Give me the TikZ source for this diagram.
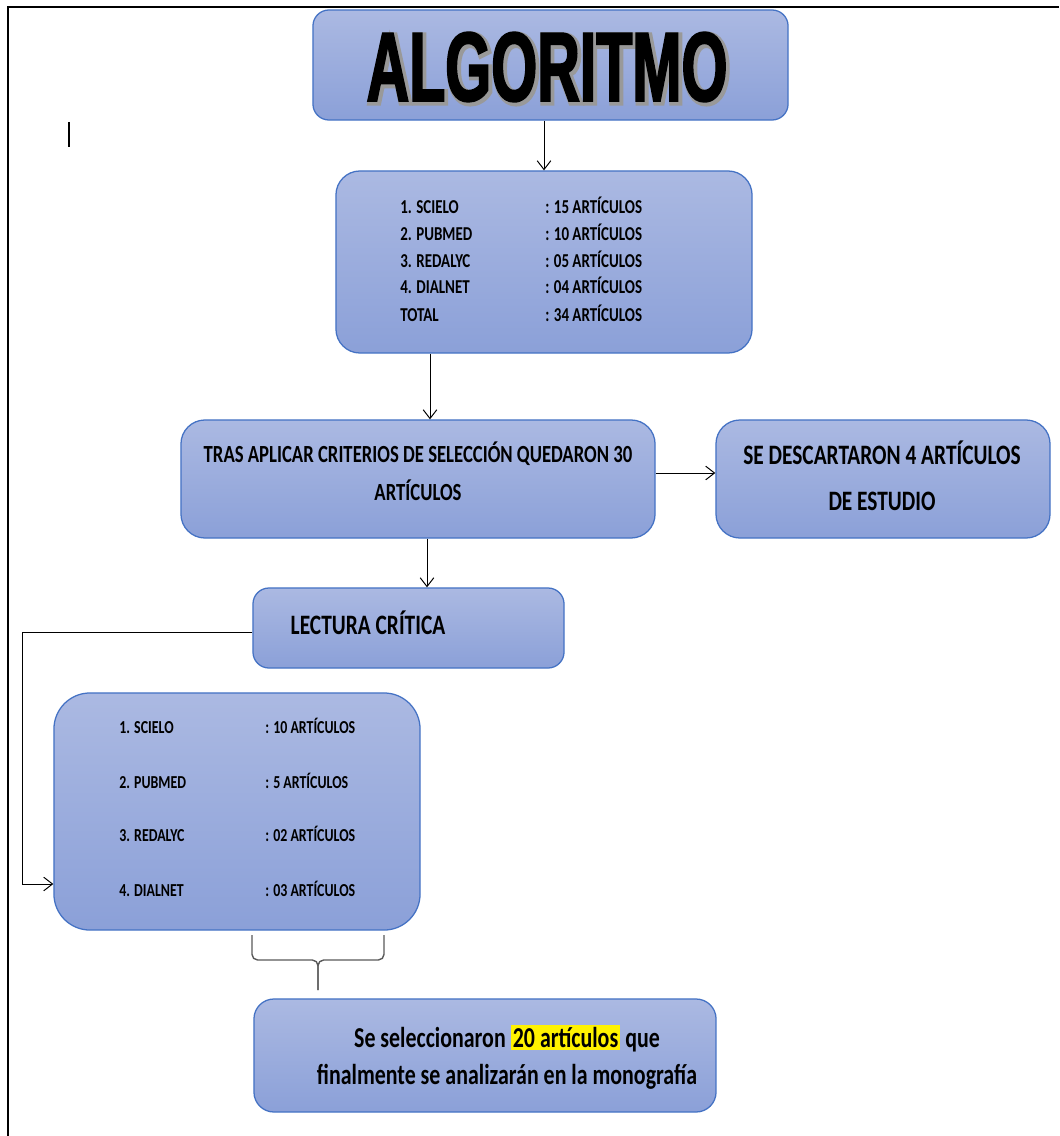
\documentclass[tikz,border=0pt]{standalone}
\usepackage{fontspec}
\setmainfont{Carlito}
\newfontfamily\boxfont[FakeStretch=0.76]{Carlito}
\newfontfamily\titlefont[FakeStretch=0.6,FakeBold=1.8]{Liberation Sans}
\newfontfamily\titleglow[FakeStretch=0.6,FakeBold=5.5]{Liberation Sans}
\usetikzlibrary{arrows.meta}
\definecolor{boxtop}{RGB}{171,185,226}
\definecolor{boxbot}{RGB}{139,160,216}
\definecolor{boxline}{RGB}{68,114,196}
\setlength{\fboxsep}{1.5pt}
\tikzset{
  flowbox/.style={draw=boxline, line width=0.9pt, top color=boxtop, bottom color=boxbot, rounded corners=0.6cm, inner sep=0pt},
  boxtext/.style 2 args={font=\boxfont\bfseries\fontsize{#1}{#2}\selectfont, inner sep=0pt},
  arr/.style={-{Straight Barb[length=2.2mm,width=3.4mm]}, line width=0.7pt},
  bracket/.style={black!65, line width=1pt, rounded corners=4pt}
}
\begin{document}
\begin{tikzpicture}[x=0.025cm,y=-0.025cm]
  \useasboundingbox (0,0) rectangle (1059,1136);
  % page frame and stray mark
  \draw[line width=1.2pt] (8,1136) -- (8,7) -- (1059,7);
  \draw[line width=0.8pt] (69,122) -- (69,147);

  % title
  \node[flowbox, rounded corners=0.4cm, minimum width=11.875cm, minimum height=2.75cm] (title) at (550.5,65) {};
  \node[text=black!40, font=\titleglow\bfseries\fontsize{70}{70}\selectfont, inner sep=0pt] (titleglow) at (549,69) {ALGORITMO};
  \node[font=\titlefont\bfseries\fontsize{70}{70}\selectfont, inner sep=0pt] (titletxt) at (547,67) {ALGORITMO};

  % databases found
  \node[flowbox, minimum width=10.4cm, minimum height=4.55cm] (bases) at (544,262) {};
  \foreach \y/\src/\cnt [count=\i] in {213/1. SCIELO/15, 240/2. PUBMED/10, 267/3. REDALYC/05, 293/4. DIALNET/04, 321/TOTAL/34} {
    \node[boxtext={14}{17}, anchor=base west] (src\i) at (400,\y) {\src};
    \node[boxtext={14}{17}, anchor=base west] (cnt\i) at (545,\y) {: \cnt{} ARTÍCULOS};
  }

  % selection criteria
  \node[flowbox, minimum width=11.85cm, minimum height=2.95cm] (crit) at (418,479) {};
  \node[boxtext={17.5}{27}, align=center] (crittxt) at (418,471) {TRAS APLICAR CRITERIOS DE SELECCIÓN QUEDARON 30\\ARTÍCULOS};

  \node[flowbox, minimum width=8.35cm, minimum height=2.95cm] (disc) at (883,479) {};
  \node[boxtext={20}{33}, align=center] (disctxt) at (882,476) {SE DESCARTARON 4 ARTÍCULOS\\DE ESTUDIO};

  % critical reading
  \node[flowbox, rounded corners=0.4cm, minimum width=7.775cm, minimum height=2cm] (lect) at (408.5,628) {};
  \node[boxtext={20}{24}] (lecttxt) at (368,623) {LECTURA CRÍTICA};

  \node[flowbox, rounded corners=0.9cm, minimum width=9.15cm, minimum height=5.925cm] (sel) at (237,811.5) {};
  \foreach \y/\src/\cnt [count=\i] in {733/1. SCIELO/10, 788/2. PUBMED/5, 841/3. REDALYC/02, 896/4. DIALNET/03} {
    \node[boxtext={13}{16}, anchor=base west] (selsrc\i) at (119,\y) {\src};
    \node[boxtext={13}{16}, anchor=base west] (selcnt\i) at (265,\y) {: \cnt{} ARTÍCULOS};
  }

  % result
  \node[flowbox, rounded corners=0.5cm, minimum width=11.55cm, minimum height=2.825cm] (final) at (485,1055.5) {};
  \node[boxtext={20.5}{26}, align=center] (finaltxt) at (507,1057) {Se seleccionaron \colorbox{yellow}{20 artículos} que\\finalmente se analizarán en la monografía};

  % connectors
  \coordinate (colA) at (430,0);
  \coordinate (colB) at (427,0);
  \coordinate (colL) at (22,0);
  \coordinate (rowC) at (0,473);
  \coordinate (rowL) at (0,632);
  \coordinate (rowD) at (0,884);
  \draw[arr] (title.south -| bases.north) -- (bases.north);
  \draw[arr] (bases.south -| colA) -- (crit.north -| colA);
  \draw[arr] (crit.east |- rowC) -- (disc.west |- rowC);
  \draw[arr] (crit.south -| colB) -- (lect.north -| colB);
  \draw[arr] (lect.west |- rowL) -| (colL |- rowD) -- (sel.west |- rowD);

  % bracket under the second list
  \draw[bracket] (252,935) -- (252,960) -- (318,960) -- (318,990);
  \draw[bracket] (318,990) -- (318,960) -- (384,960) -- (384,935);
\end{tikzpicture}
\end{document}
